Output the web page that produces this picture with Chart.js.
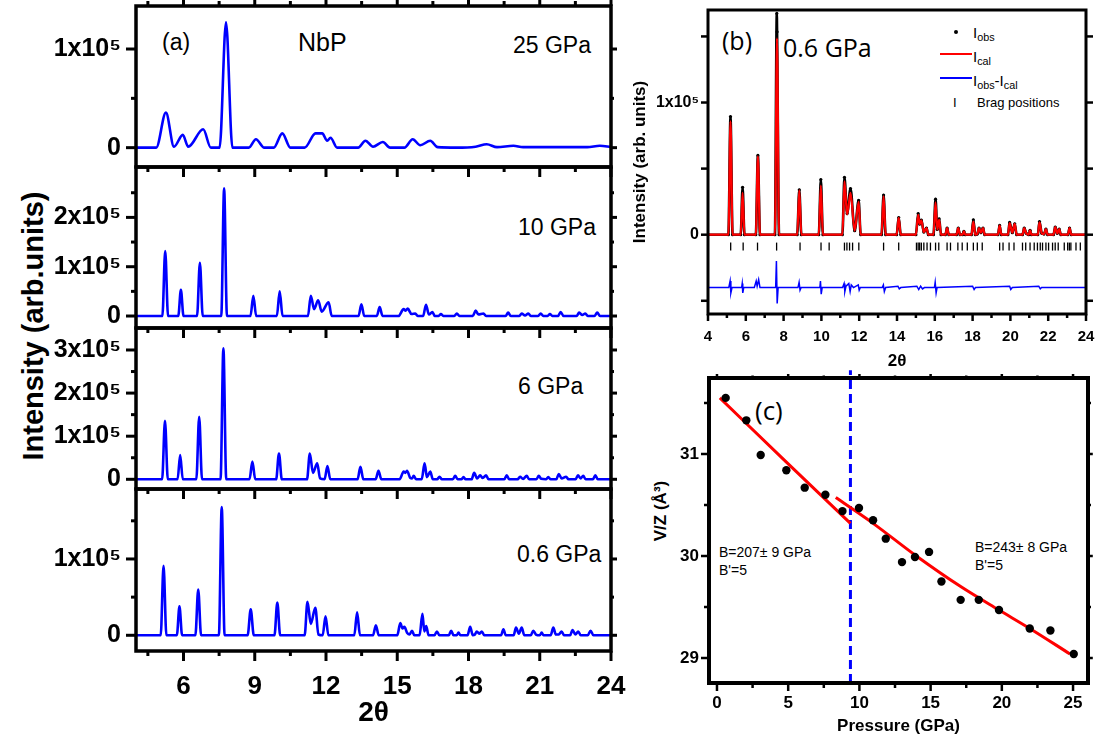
<!DOCTYPE html>
<html>
<head>
<meta charset="utf-8">
<script src="https://cdn.jsdelivr.net/npm/chart.js@4.4.1/dist/chart.umd.min.js"></script>
<style>
  html, body { margin: 0; padding: 0; background: #fff; }
  #fig { position: relative; width: 1098px; height: 754px; overflow: hidden; font-family: "Liberation Sans", Arial, sans-serif; color: #000; }
  #fig canvas { position: absolute; }
  .t { position: absolute; white-space: nowrap; line-height: 1; transform: translateY(-50%); }
  .rot { position: absolute; white-space: nowrap; line-height: 1; font-weight: bold; transform: translate(-50%, -50%) rotate(-90deg); }
  .t sub { font-size: 72%; vertical-align: -0.3em; line-height: 0; }
  .sw { position: absolute; }
</style>
</head>
<body>
<div id="fig">
  <!-- panel (a) -->
  <div class="rot" style="left:33px; top:326px; font-size:29px;">Intensity (arb.units)</div>
  <div class="t" style="left:162px; top:42px; font-size:23px;">(a)</div>
  <div class="t" style="left:298px; top:42px; font-size:25px;">NbP</div>
  <div class="t" style="left:513px; top:45px; font-size:23px;">25 GPa</div>
  <div class="t" style="left:518px; top:227px; font-size:23px;">10 GPa</div>
  <div class="t" style="left:518px; top:386px; font-size:23px;">6 GPa</div>
  <div class="t" style="left:517px; top:554px; font-size:23px;">0.6 GPa</div>

  <!-- panel (b) -->
  <div class="t" style="left:722px; top:40px; font-size:25px; font-family:'Open Sans';">(b)</div>
  <div class="t" style="left:783px; top:47px; font-size:25px; font-family:'Open Sans';">0.6 GPa</div>
  <div class="sw" style="left:954px; top:30px; width:4px; height:4px; border-radius:50%; background:#000;"></div>
  <div class="t" style="left:973px; top:32px; font-size:15px;">I<sub>obs</sub></div>
  <div class="sw" style="left:940px; top:53px; width:32px; height:2px; background:#ff0000;"></div>
  <div class="t" style="left:973px; top:56px; font-size:15px;">I<sub>cal</sub></div>
  <div class="sw" style="left:940px; top:77px; width:32px; height:2px; background:#0000ff;"></div>
  <div class="t" style="left:973px; top:80px; font-size:15px;">I<sub>obs</sub>-I<sub>cal</sub></div>
  <div class="t" style="left:953px; top:102px; font-size:13px;">I</div>
  <div class="t" style="left:977px; top:102px; font-size:13px;">Brag positions</div>

  <!-- panel (c) -->
  <div class="rot" style="left:660px; top:511px; font-size:17px;">V/Z (Å³)</div>
  <div class="t" style="left:755px; top:410px; font-size:26px; font-family:'Open Sans';">(c)</div>
  <div class="t" style="left:719px; top:552px; font-size:14px;">B=207± 9 GPa</div>
  <div class="t" style="left:719px; top:570px; font-size:14px;">B'=5</div>
  <div class="t" style="left:975px; top:547px; font-size:14px;">B=243± 8 GPa</div>
  <div class="t" style="left:975px; top:565px; font-size:14px;">B'=5</div>
</div>
<script>
// ---- data: intensities are in units of 1x10^5 counts ----
// 2theta (deg), intensity pairs
const pattern25 = [
  [4, 0], [4.85, 0], [5.26, 0.355], [5.6, 0.01], [5.97, 0.13], [6.2, 0.01], [6.83, 0.186], [7.15, 0],
  [7.52, 0], [7.79, 1.27], [8.06, 0],
  [8.75, 0], [9.05, 0.085], [9.4, 0],
  [9.8, 0], [10.16, 0.145], [10.5, 0],
  [11.1, 0], [11.56, 0.145], [11.84, 0.145], [12.05, 0.07], [12.19, 0.10], [12.47, 0],
  [13.35, 0], [13.66, 0.07], [13.98, 0.01], [14.39, 0.057], [14.7, 0],
  [15.3, 0], [15.65, 0.085], [15.97, 0.024], [16.39, 0.07], [16.7, 0.005],
  [17.5, 0], [18.3, 0.01], [18.77, 0.034], [19.2, 0.005], [19.89, 0.02], [20.3, 0.005],
  [21.5, 0.005], [23.0, 0.005], [23.53, 0.02], [24, 0.005]
];
const pattern10 = [
  [4, 0],
  [5.11, 0], [5.23, 1.32], [5.35, 0],
  [5.78, 0], [5.89, 0.53], [6.0, 0],
  [6.57, 0], [6.69, 1.08], [6.81, 0],
  [7.59, 0], [7.71, 2.59], [7.83, 0],
  [8.82, 0], [8.94, 0.41], [9.06, 0],
  [9.93, 0], [10.05, 0.50], [10.17, 0],
  [11.24, 0], [11.36, 0.41], [11.5, 0.14], [11.67, 0.32], [11.82, 0.09], [12.11, 0.28], [12.24, 0],
  [13.37, 0], [13.49, 0.24], [13.61, 0],
  [14.14, 0], [14.26, 0.18], [14.38, 0],
  [15.05, 0], [15.27, 0.14], [15.35, 0.11], [15.44, 0.15], [15.6, 0.04], [15.76, 0.05], [15.86, 0],
  [16.09, 0], [16.21, 0.23], [16.33, 0.03], [16.48, 0.08], [16.58, 0],
  [16.74, 0], [16.84, 0.04], [16.94, 0],
  [17.4, 0], [17.51, 0.05], [17.62, 0],
  [18.18, 0], [18.30, 0.11], [18.42, 0.03], [18.63, 0.05], [18.74, 0],
  [19.56, 0], [19.67, 0.07], [19.78, 0],
  [20.14, 0], [20.24, 0.05], [20.38, 0.01], [20.52, 0.05], [20.62, 0],
  [20.93, 0], [21.04, 0.05], [21.15, 0], [21.33, 0], [21.43, 0.04], [21.53, 0],
  [21.77, 0], [21.88, 0.08], [22.0, 0],
  [22.55, 0], [22.66, 0.07], [22.79, 0.02], [22.92, 0.05], [23.02, 0],
  [23.3, 0], [23.42, 0.07], [23.54, 0],
  [24, 0]
];
const pattern6 = [
  [4, 0],
  [5.10, 0], [5.22, 1.36], [5.34, 0],
  [5.75, 0], [5.86, 0.56], [5.97, 0],
  [6.54, 0], [6.66, 1.45], [6.78, 0],
  [7.56, 0], [7.68, 3.04], [7.80, 0],
  [8.78, 0], [8.90, 0.41], [9.02, 0],
  [9.90, 0], [10.02, 0.60], [10.14, 0],
  [11.2, 0], [11.32, 0.60], [11.45, 0.15], [11.63, 0.37], [11.75, 0.02], [11.94, 0], [12.06, 0.31], [12.18, 0],
  [13.33, 0], [13.45, 0.29], [13.57, 0],
  [14.09, 0], [14.21, 0.20], [14.33, 0],
  [15.1, 0], [15.27, 0.18], [15.34, 0.15], [15.41, 0.20], [15.55, 0.03], [15.62, 0.02], [15.69, 0.08], [15.8, 0],
  [16.03, 0], [16.15, 0.37], [16.25, 0.05], [16.39, 0.18], [16.5, 0],
  [16.68, 0], [16.78, 0.06], [16.88, 0],
  [17.34, 0], [17.44, 0.08], [17.54, 0], [17.70, 0], [17.79, 0.05], [17.88, 0],
  [18.13, 0], [18.24, 0.15], [18.36, 0.02], [18.49, 0.09], [18.6, 0.03], [18.74, 0.09], [18.84, 0],
  [19.51, 0], [19.61, 0.09], [19.71, 0],
  [20.07, 0], [20.17, 0.06], [20.3, 0.01], [20.45, 0.08], [20.55, 0],
  [20.86, 0], [20.96, 0.08], [21.06, 0.01], [21.26, 0], [21.36, 0.05], [21.46, 0],
  [21.7, 0], [21.80, 0.12], [21.92, 0.02], [22.11, 0.06], [22.21, 0],
  [22.51, 0], [22.61, 0.09], [22.72, 0.02], [22.83, 0.08], [22.93, 0],
  [23.24, 0], [23.34, 0.09], [23.44, 0],
  [24, 0]
];
const pattern06 = [
  [4, 0],
  [5.04, 0], [5.16, 0.91], [5.28, 0],
  [5.72, 0], [5.83, 0.38], [5.94, 0],
  [6.5, 0], [6.62, 0.60], [6.74, 0],
  [7.49, 0], [7.61, 1.68], [7.73, 0],
  [8.7, 0], [8.83, 0.34], [8.96, 0],
  [9.83, 0], [9.95, 0.43], [10.07, 0],
  [11.1, 0], [11.22, 0.44], [11.36, 0.15], [11.55, 0.36], [11.68, 0.01], [11.86, 0], [11.98, 0.25], [12.1, 0],
  [13.19, 0], [13.31, 0.30], [13.43, 0],
  [13.98, 0], [14.10, 0.13], [14.22, 0],
  [15.0, 0], [15.13, 0.16], [15.22, 0.09], [15.3, 0.11], [15.42, 0.03], [15.52, 0.01], [15.62, 0.06], [15.72, 0],
  [15.94, 0], [16.06, 0.28], [16.14, 0.05], [16.22, 0.12], [16.32, 0],
  [16.57, 0], [16.67, 0.05], [16.77, 0],
  [17.17, 0], [17.27, 0.06], [17.37, 0], [17.5, 0], [17.58, 0.035], [17.66, 0],
  [17.96, 0], [18.07, 0.11], [18.18, 0], [18.27, 0.01], [18.35, 0.05], [18.45, 0.02], [18.56, 0.05], [18.66, 0],
  [19.37, 0], [19.47, 0.08], [19.57, 0],
  [19.9, 0], [20.0, 0.10], [20.12, 0.02], [20.24, 0.10], [20.35, 0],
  [20.62, 0], [20.73, 0.06], [20.84, 0.01], [21.0, 0], [21.08, 0.035], [21.16, 0],
  [21.46, 0], [21.57, 0.10], [21.68, 0.01], [21.8, 0.01], [21.92, 0.05], [22.02, 0],
  [22.28, 0], [22.38, 0.07], [22.5, 0.01], [22.62, 0.05], [22.72, 0],
  [23.02, 0], [23.14, 0.06], [23.26, 0],
  [24, 0]
];

// Rietveld fit at 0.6 GPa (panel b)
const obs06 = [
  [4, 0],
  [5.08, 0], [5.19, 0.894], [5.30, 0],
  [5.73, 0], [5.83, 0.359], [5.93, 0],
  [6.53, 0], [6.64, 0.60], [6.75, 0],
  [7.54, 0], [7.64, 1.674], [7.655, 1.535], [7.76, 0],
  [8.72, 0], [8.83, 0.34], [8.94, 0],
  [9.86, 0], [9.97, 0.417], [10.08, 0],
  [11.11, 0], [11.22, 0.434], [11.36, 0.16], [11.54, 0.349], [11.76, 0.03], [11.97, 0.26], [12.08, 0],
  [13.18, 0], [13.29, 0.30], [13.40, 0],
  [13.98, 0], [14.09, 0.13], [14.20, 0],
  [15.0, 0], [15.12, 0.16], [15.2, 0.08], [15.29, 0.11], [15.42, 0.02], [15.56, 0.05], [15.66, 0],
  [15.93, 0], [16.04, 0.269], [16.13, 0.04], [16.23, 0.12], [16.33, 0],
  [16.56, 0], [16.65, 0.05], [16.74, 0],
  [17.15, 0], [17.24, 0.05], [17.33, 0], [17.47, 0], [17.54, 0.025], [17.61, 0],
  [17.94, 0], [18.04, 0.113], [18.14, 0], [18.25, 0.005], [18.34, 0.05], [18.44, 0.015], [18.55, 0.05], [18.64, 0],
  [19.34, 0], [19.43, 0.07], [19.52, 0],
  [19.87, 0], [19.96, 0.093], [20.1, 0.015], [20.23, 0.083], [20.33, 0],
  [20.64, 0], [20.73, 0.05], [20.84, 0.01], [20.97, 0], [21.04, 0.033], [21.11, 0],
  [21.45, 0], [21.54, 0.10], [21.66, 0.01], [21.78, 0.005], [21.88, 0.043], [21.97, 0],
  [22.28, 0], [22.37, 0.058], [22.48, 0.01], [22.58, 0.043], [22.67, 0],
  [23.04, 0], [23.13, 0.05], [23.22, 0],
  [24, 0]
];
const cal06 = [
  [4, 0],
  [5.08, 0], [5.19, 0.857], [5.30, 0],
  [5.73, 0], [5.83, 0.317], [5.93, 0],
  [6.53, 0], [6.64, 0.593], [6.75, 0],
  [7.54, 0], [7.65, 1.486], [7.76, 0],
  [8.72, 0], [8.83, 0.336], [8.94, 0],
  [9.86, 0], [9.97, 0.372], [10.08, 0],
  [11.11, 0], [11.22, 0.404], [11.36, 0.153], [11.54, 0.317], [11.76, 0.03], [11.97, 0.249], [12.08, 0],
  [13.18, 0], [13.29, 0.291], [13.40, 0],
  [13.98, 0], [14.09, 0.128], [14.20, 0],
  [15.0, 0], [15.12, 0.151], [15.2, 0.08], [15.29, 0.108], [15.42, 0.02], [15.56, 0.05], [15.66, 0],
  [15.93, 0], [16.04, 0.244], [16.13, 0.04], [16.23, 0.113], [16.33, 0],
  [16.56, 0], [16.65, 0.05], [16.74, 0],
  [17.15, 0], [17.24, 0.05], [17.33, 0], [17.47, 0], [17.54, 0.025], [17.61, 0],
  [17.94, 0], [18.04, 0.10], [18.14, 0], [18.25, 0.005], [18.34, 0.05], [18.44, 0.015], [18.55, 0.05], [18.64, 0],
  [19.34, 0], [19.43, 0.068], [19.52, 0],
  [19.87, 0], [19.96, 0.088], [20.1, 0.015], [20.23, 0.083], [20.33, 0],
  [20.64, 0], [20.73, 0.05], [20.84, 0.01], [20.97, 0], [21.04, 0.033], [21.11, 0],
  [21.45, 0], [21.54, 0.093], [21.66, 0.01], [21.78, 0.005], [21.88, 0.043], [21.97, 0],
  [22.28, 0], [22.37, 0.058], [22.48, 0.01], [22.58, 0.043], [22.67, 0],
  [23.04, 0], [23.13, 0.05], [23.22, 0],
  [24, 0]
];
// Iobs - Ical, plotted with its offset
const diff06 = [
  [4, -0.40], [5.1, -0.40], [5.17, -0.35], [5.21, -0.44], [5.27, -0.40],
  [5.78, -0.40], [5.81, -0.37], [5.84, -0.44], [5.89, -0.40],
  [6.45, -0.40], [6.55, -0.35], [6.60, -0.39], [6.68, -0.34], [6.75, -0.40],
  [7.58, -0.40], [7.62, -0.20], [7.66, -0.52], [7.71, -0.40],
  [8.76, -0.40], [8.82, -0.36], [8.87, -0.42], [8.93, -0.40],
  [9.92, -0.40], [9.95, -0.35], [9.99, -0.45], [10.04, -0.40],
  [11.12, -0.40], [11.2, -0.37], [11.24, -0.43], [11.3, -0.39], [11.45, -0.37], [11.52, -0.43], [11.58, -0.38],
  [11.7, -0.40], [11.95, -0.38], [12.0, -0.42], [12.06, -0.40],
  [13.22, -0.40], [13.28, -0.38], [13.33, -0.43], [13.4, -0.40],
  [14.05, -0.39], [14.12, -0.41], [14.2, -0.40],
  [15.05, -0.39], [15.15, -0.415], [15.25, -0.39], [15.35, -0.41], [15.45, -0.40],
  [15.98, -0.40], [16.02, -0.36], [16.07, -0.44], [16.12, -0.40],
  [18.0, -0.39], [18.08, -0.415], [18.15, -0.40],
  [19.96, -0.39], [20.02, -0.415], [20.1, -0.40],
  [21.5, -0.39], [21.58, -0.41], [21.65, -0.40],
  [24, -0.40]
];
const braggPos = [5.20, 5.86, 6.62, 7.63, 8.87, 9.98, 10.41, 11.22, 11.35, 11.49, 11.65, 11.98, 13.29, 14.09,
  15.03, 15.12, 15.20, 15.29, 15.42, 15.59, 15.77, 16.04, 16.21, 16.65, 16.83, 17.22, 17.45, 17.72, 18.04,
  18.25, 18.51, 19.43, 19.61, 19.93, 20.19, 20.64, 20.81, 21.04, 21.26, 21.43, 21.58, 21.70, 21.88, 22.02,
  22.23, 22.37, 22.53, 22.85, 23.03, 23.12, 23.20, 23.47, 23.70];
const braggLevel = -0.09;

// panel (c): equation of state
const pressure = [0.61, 2.06, 3.07, 4.87, 6.16, 7.61, 8.81, 9.97, 10.96, 11.85, 12.99, 13.9, 14.89, 15.76, 17.11, 18.38, 19.80, 21.96, 23.41, 25.05];
const volumePerZ = [31.55, 31.33, 30.99, 30.84, 30.67, 30.60, 30.44, 30.47, 30.35, 30.17, 29.94, 29.99, 30.04, 29.75, 29.57, 29.57, 29.47, 29.29, 29.27, 29.04];
const fitLowP = [0.2, 4.8, 9.37];
const fitLowV = [31.55, 30.93, 30.32];
const fitHighP = [8.34, 10.96, 13.9, 17.11, 19.8, 21.96, 24.78];
const fitHighV = [30.573, 30.32, 30.01, 29.70, 29.47, 29.29, 29.04];
const transitionP = 9.37;

// tick values
const twoThetaMajor = [6, 9, 12, 15, 18, 21, 24];
const twoThetaMinor = [4.5, 7.5, 10.5, 13.5, 16.5, 19.5, 22.5];
const twoThetaMajorB = [4, 6, 8, 10, 12, 14, 16, 18, 20, 22, 24];
const twoThetaMinorB = [5, 7, 9, 11, 13, 15, 17, 19, 21, 23];
const pressureMajor = [0, 5, 10, 15, 20, 25];
const pressureMinor = [2.5, 7.5, 12.5, 17.5, 22.5];
const volumeMajor = [29, 30, 31];
const volumeMinor = [29.5, 30.5, 31.5];

Chart.defaults.font.family = '"Liberation Sans", Arial, sans-serif';
Chart.defaults.color = '#000';

const xy = pairs => pairs.map(([x, y]) => ({ x, y }));
const tickList = vals => s => { s.ticks = vals.map(v => ({ value: v })); };
// fixed axis size, and no extra room reserved for end labels
const fixSize = (w, h) => s => {
  if (w !== null) s.width = w;
  if (h !== null) s.height = h;
  s.paddingTop = s.paddingBottom = s.paddingLeft = s.paddingRight = 0;
};

// draws the boxed frame and outward/inward tick marks of each panel
function framePlugin(o) {
  return {
    id: 'frame',
    afterDraw(chart) {
      const { ctx, chartArea: a } = chart;
      const xs = chart.scales.x, ys = chart.scales.y;
      const s = o.sides;
      ctx.save();
      ctx.strokeStyle = '#000';
      ctx.lineWidth = o.tickWidth;
      const seg = (x0, y0, x1, y1) => { ctx.beginPath(); ctx.moveTo(x0, y0); ctx.lineTo(x1, y1); ctx.stroke(); };
      [[o.yMajor, o.major], [o.yMinor, o.minor]].forEach(([vals, len]) => vals.forEach(v => {
        const p = ys.getPixelForValue(v);
        if (s.left) seg(a.left, p, a.left - len * s.left, p);
        if (s.right) seg(a.right, p, a.right + len * s.right, p);
      }));
      [[o.xMajor, o.major], [o.xMinor, o.minor]].forEach(([vals, len]) => vals.forEach(v => {
        const p = xs.getPixelForValue(v);
        if (s.top) seg(p, a.top, p, a.top - len * s.top);
        if (s.bottom) seg(p, a.bottom, p, a.bottom + len * s.bottom);
      }));
      ctx.lineWidth = o.width;
      ctx.strokeRect(a.left, a.top, a.right - a.left, a.bottom - a.top);
      ctx.restore();
    }
  };
}

function addCanvas(id, left, top, w, h) {
  const c = document.createElement('canvas');
  c.id = id;
  c.width = w; c.height = h;
  c.style.left = left + 'px'; c.style.top = top + 'px';
  c.style.width = w + 'px'; c.style.height = h + 'px';
  document.getElementById('fig').appendChild(c);
  return c;
}

const baseOpts = {
  responsive: false,
  animation: false,
  events: [],
  plugins: { legend: { display: false }, tooltip: { enabled: false } }
};

// ---- panel (a): four stacked patterns ----
const panelsA = [
  { id: 'a25', data: pattern25, top: 6, bottom: 167, yMin: -0.196, yMax: 1.436, yMajor: [0, 1], yMinor: [0.5], topSide: 1 },
  { id: 'a10', data: pattern10, top: 167, bottom: 328, yMin: -0.243, yMax: 3.022, yMajor: [0, 1, 2], yMinor: [0.5, 1.5, 2.5], topSide: -1 },
  { id: 'a6', data: pattern6, top: 328, bottom: 489, yMin: -0.225, yMax: 3.51, yMajor: [0, 1, 2, 3], yMinor: [0.5, 1.5, 2.5], topSide: -1 },
  { id: 'a06', data: pattern06, top: 489, bottom: 651, yMin: -0.206, yMax: 1.917, yMajor: [0, 1], yMinor: [0.5, 1.5], topSide: -1, last: true }
];

panelsA.forEach(p => {
  const padT = 12;
  const below = p.last ? 100 : 12;
  const cv = addCanvas(p.id, 0, p.top - padT, 640, p.bottom - p.top + padT + below);
  new Chart(cv, {
    type: 'scatter',
    data: {
      datasets: [{
        data: xy(p.data), showLine: true, borderColor: '#0000ff', borderWidth: 2.6,
        pointRadius: 0, cubicInterpolationMode: 'monotone'
      }]
    },
    options: {
      ...baseOpts,
      layout: { padding: { left: 0, top: padT, right: 29, bottom: p.last ? 0 : 12 } },
      scales: {
        x: {
          type: 'linear', min: 4, max: 24,
          afterBuildTicks: tickList(twoThetaMajor),
          afterFit: fixSize(null, p.last ? 100 : 0),
          grid: { display: false, drawTicks: false }, border: { display: false },
          ticks: {
            display: !!p.last, padding: 20,
            font: { size: 26, weight: 'bold' }
          },
          title: {
            display: !!p.last, text: '2θ', padding: { top: 0, bottom: 21 },
            font: { size: 28, weight: 'bold' }
          }
        },
        y: {
          type: 'linear', min: p.yMin, max: p.yMax,
          afterBuildTicks: tickList(p.yMajor),
          afterFit: fixSize(136, null),
          grid: { display: false, drawTicks: false }, border: { display: false },
          ticks: {
            padding: 15, font: { size: 25, weight: 'bold' },
            callback: v => v === 0 ? '0' : v + 'x10⁵'
          }
        }
      }
    },
    plugins: [framePlugin({
      width: 3.5, tickWidth: 3, major: 10, minor: 5,
      xMajor: twoThetaMajor, xMinor: twoThetaMinor, yMajor: p.yMajor, yMinor: p.yMinor,
      sides: { left: 1, right: 0.6, top: p.topSide, bottom: p.last ? 1 : 0 }
    })]
  });
});

// ---- panel (b): Rietveld refinement at 0.6 GPa ----
const cvB = addCanvas('b', 615, 0, 483, 380);
new Chart(cvB, {
  type: 'scatter',
  data: {
    datasets: [
      { label: 'Ical', data: xy(cal06), showLine: true, borderColor: '#ff0000', borderWidth: 2.2,
        pointRadius: 0, cubicInterpolationMode: 'monotone', order: 0 },
      { label: 'Iobs', data: xy(obs06), showLine: true, borderColor: '#000', backgroundColor: '#000',
        borderWidth: 2.6, pointRadius: 1.6, pointBorderWidth: 0, cubicInterpolationMode: 'monotone', order: 1 },
      { label: 'Iobs-Ical', data: xy(diff06), showLine: true, borderColor: '#0000ff', borderWidth: 1.5,
        pointRadius: 0, order: 2 },
      { label: 'Brag positions', data: braggPos.map(x => ({ x, y: braggLevel })), showLine: false,
        pointStyle: 'line', rotation: 90, pointRadius: 4, borderColor: '#000', borderWidth: 1.3, order: 3 }
    ]
  },
  options: {
    ...baseOpts,
    layout: { padding: { left: 0, top: 10, right: 12, bottom: 0 } },
    scales: {
      x: {
        type: 'linear', min: 4, max: 24,
        afterBuildTicks: tickList(twoThetaMajorB),
        afterFit: fixSize(null, 66),
        grid: { display: false, drawTicks: false }, border: { display: false },
        ticks: { padding: 14, font: { size: 15, weight: 'bold' } },
        title: { display: true, text: '2θ', padding: { top: 0, bottom: 8 }, font: { size: 17, weight: 'bold' } }
      },
      y: {
        type: 'linear', min: -0.6, max: 1.7,
        afterBuildTicks: tickList([0, 1]),
        afterFit: fixSize(93, null),
        grid: { display: false, drawTicks: false }, border: { display: false },
        ticks: { padding: 9, font: { size: 16, weight: 'bold' }, callback: v => v === 0 ? '0' : v + 'x10⁵' },
        title: { display: true, text: 'Intensity (arb. units)', padding: { top: 15, bottom: 0 },
          font: { size: 17, weight: 'bold' } }
      }
    }
  },
  plugins: [framePlugin({
    width: 3, tickWidth: 2.5, major: 7, minor: 4,
    xMajor: twoThetaMajorB, xMinor: twoThetaMinorB, yMajor: [-0.5, 0, 0.5, 1, 1.5], yMinor: [],
    sides: { left: 1, right: 1, top: 0, bottom: 1 }
  })]
});

// ---- panel (c): V/Z versus pressure ----
const cvC = addCanvas('c', 615, 360, 483, 394);
new Chart(cvC, {
  type: 'scatter',
  data: {
    datasets: [
      { data: pressure.map((x, i) => ({ x, y: volumePerZ[i] })), pointRadius: 4.2,
        backgroundColor: '#000', borderColor: '#000', pointBorderWidth: 0, order: 0 },
      { data: fitLowP.map((x, i) => ({ x, y: fitLowV[i] })), showLine: true, borderColor: '#ff0000',
        borderWidth: 3, pointRadius: 0, cubicInterpolationMode: 'monotone', order: 1 },
      { data: fitHighP.map((x, i) => ({ x, y: fitHighV[i] })), showLine: true, borderColor: '#ff0000',
        borderWidth: 3, pointRadius: 0, cubicInterpolationMode: 'monotone', order: 1 },
      { data: [{ x: transitionP, y: 28.755 }, { x: transitionP, y: 31.82 }], showLine: true,
        borderColor: '#0000ff', borderWidth: 3, borderDash: [9, 5], pointRadius: 0, clip: false, order: 2 }
    ]
  },
  options: {
    ...baseOpts,
    layout: { padding: { left: 0, top: 18, right: 10, bottom: 0 } },
    scales: {
      x: {
        type: 'linear', min: -0.56, max: 26.05,
        afterBuildTicks: tickList(pressureMajor),
        afterFit: fixSize(null, 71),
        grid: { display: false, drawTicks: false }, border: { display: false },
        ticks: { padding: 10, font: { size: 17, weight: 'bold' } },
        title: { display: true, text: 'Pressure (GPa)', padding: { top: 0, bottom: 17 }, font: { size: 17, weight: 'bold' } }
      },
      y: {
        type: 'linear', min: 28.755, max: 31.745,
        afterBuildTicks: tickList(volumeMajor),
        afterFit: fixSize(94, null),
        grid: { display: false, drawTicks: false }, border: { display: false },
        ticks: { padding: 10, font: { size: 17, weight: 'bold' } }
      }
    }
  },
  plugins: [framePlugin({
    width: 4, tickWidth: 2.5, major: 8, minor: 5,
    xMajor: pressureMajor, xMinor: pressureMinor, yMajor: volumeMajor, yMinor: volumeMinor,
    sides: { left: 1, right: 0.6, top: 0.5, bottom: 1 }
  })]
});
</script>
</body>
</html>
